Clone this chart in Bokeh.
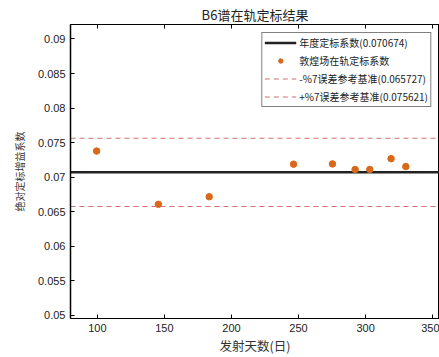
from bokeh.plotting import figure
from bokeh.models import Range1d, FixedTicker, NumeralTickFormatter, LinearAxis, Legend, LegendItem
from bokeh.embed import file_html
from bokeh.resources import INLINE

title = "B6谱在轨定标结果"
x_label = "发射天数(日)"
y_label = "绝对定标增益系数"

days = [99.5, 145.5, 183.4, 246.3, 275.3, 292.2, 303.1, 319.0, 330.0]
coef = [0.07376, 0.06604, 0.06714, 0.07186, 0.0719, 0.07109, 0.07109, 0.07266, 0.07151]
annual = 0.070674
lower = 0.065727
upper = 0.075621
x_ticks = [100, 150, 200, 250, 300, 350]
y_ticks = [0.05, 0.055, 0.06, 0.065, 0.07, 0.075, 0.08, 0.085, 0.09]

labels = ["年度定标系数(0.070674)", "敦煌场在轨定标系数",
          "-%7误差参考基准(0.065727)", "+%7误差参考基准(0.075621)"]

x0, x1 = 80, 355.1

p = figure(width=439, height=357, output_backend="svg", toolbar_location=None,
           x_range=Range1d(x0, x1), y_range=Range1d(0.0495, 0.0921),
           min_border_left=70, min_border_right=0, min_border_bottom=35, min_border_top=24)
p.title.text = title
p.title.align = "center"
p.title.text_font = "Noto Sans CJK SC"
p.title.text_font_size = "13px"
p.title.text_font_style = "normal"
p.title.text_color = "#222222"
p.title.standoff = 1

p.xgrid.visible = False
p.ygrid.visible = False
p.outline_line_color = "black"
p.outline_line_width = 1

for ax in (p.xaxis[0], p.yaxis[0]):
    ax.major_tick_in = 4
    ax.major_tick_out = 0
    ax.minor_tick_in = 0
    ax.minor_tick_out = 0
    ax.axis_line_color = "black"
    ax.major_tick_line_color = "black"
    ax.major_label_text_font = "Liberation Sans"
    ax.major_label_text_font_size = "11px"
    ax.major_label_text_color = "#222222"
    ax.axis_label_text_font = "Noto Sans CJK SC"
    ax.axis_label_text_font_style = "normal"
    ax.axis_label_text_color = "#333333"

p.xaxis[0].ticker = FixedTicker(ticks=x_ticks)
p.yaxis[0].ticker = FixedTicker(ticks=y_ticks)
p.yaxis[0].formatter = NumeralTickFormatter(format="0.[000]")
p.xaxis[0].axis_label = x_label
p.yaxis[0].axis_label = y_label
p.xaxis[0].axis_label_text_font_size = "12.5px"
p.yaxis[0].axis_label_text_font_size = "10px"
p.xaxis[0].axis_label_standoff = 1
p.yaxis[0].axis_label_standoff = 8
p.yaxis[0].axis_line_width = 1.5

top = LinearAxis(ticker=FixedTicker(ticks=x_ticks),
                 major_label_overrides={t: "" for t in x_ticks},
                 major_tick_in=4, major_tick_out=0, minor_tick_in=0, minor_tick_out=0,
                 axis_line_color="black")
p.add_layout(top, "above")

r_annual = p.line(x=[x0, x1], y=[annual, annual], line_color="#222222", line_width=2.5)
r_pts = p.scatter(x=days, y=coef, size=6.5, fill_color="#d9691a", line_color="#d9691a")
r_low = p.line(x=[x0, x1], y=[lower, lower], line_color="#d07070", line_width=1.2, line_dash="5 4")
r_up = p.line(x=[x0, x1], y=[upper, upper], line_color="#d07070", line_width=1.2, line_dash="5 4")

legend = Legend(items=[LegendItem(label=labels[0], renderers=[r_annual]),
                       LegendItem(label=labels[1], renderers=[r_pts]),
                       LegendItem(label=labels[2], renderers=[r_low]),
                       LegendItem(label=labels[3], renderers=[r_up])],
                location="top_right", border_line_color="black", border_line_width=1,
                background_fill_alpha=1, label_text_font="Noto Sans CJK SC",
                label_text_font_size="10px", label_text_color="#222222",
                glyph_width=32, glyph_height=11,
                label_height=11, spacing=3, padding=2, margin=8, label_standoff=3)
p.add_layout(legend)

open("out.html", "w").write(file_html(p, INLINE))
